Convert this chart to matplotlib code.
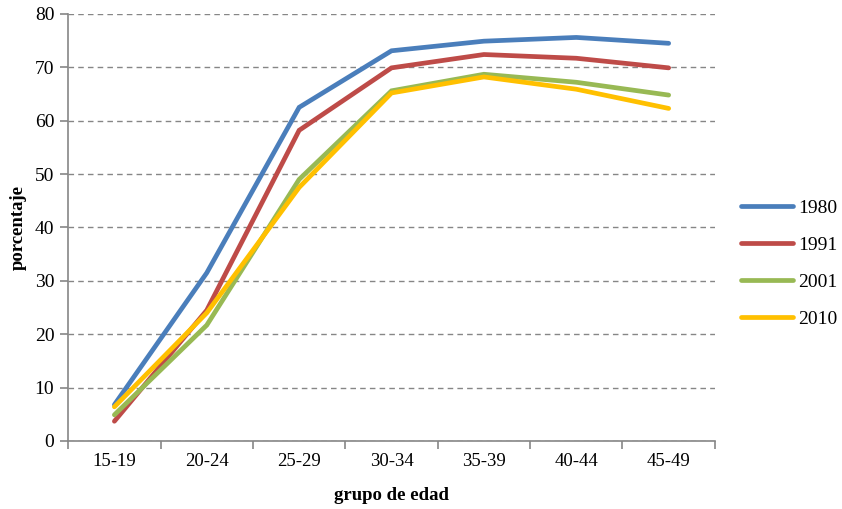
import numpy as np
import matplotlib
matplotlib.use('Agg')
import matplotlib.pyplot as plt

plt.rcParams['font.family'] = ['Liberation Serif', 'DejaVu Serif']

# grupos de edad y porcentajes por censo
grupos = ['15-19', '20-24', '25-29', '30-34', '35-39', '40-44', '45-49']
p1980 = [6.8, 31.5, 62.5, 73.1, 74.9, 75.6, 74.5]
p1991 = [3.7, 24.5, 58.2, 69.9, 72.4, 71.7, 69.9]
p2001 = [4.9, 21.7, 49.0, 65.6, 68.7, 67.2, 64.8]
p2010 = [6.4, 24.0, 47.5, 65.2, 68.2, 65.9, 62.3]
series = ['1980', '1991', '2001', '2010']
colores = ['#4A7EBB', '#BE4B48', '#98B954', '#FFC000']

fig = plt.figure(figsize=(8.42, 5.09), dpi=100)
ax = fig.add_axes([0.081, 0.1336, 0.768, 0.839])

x = np.arange(len(grupos))
for datos, nombre, col in zip([p1980, p1991, p2001, p2010], series, colores):
    ax.plot(x, datos, color=col, lw=3.4, label=nombre, solid_capstyle='round', solid_joinstyle='miter')

ax.set_xlim(-0.5, len(grupos) - 0.5)
ax.set_ylim(0, 80)
ax.set_yticks(range(0, 81, 10))
ax.set_xticks(x)
ax.set_xticklabels(grupos)
ax.set_xticks(np.arange(-0.5, len(grupos)), minor=True)
ax.tick_params(axis='x', which='major', length=0, pad=9, labelsize=13.5)
ax.tick_params(axis='x', which='minor', length=6, direction='out', color='#868686', width=1.2)
ax.tick_params(axis='y', length=6, direction='out', color='#868686', width=1.2, labelsize=14, pad=4)

for s in ['top', 'right']:
    ax.spines[s].set_visible(False)
for s in ['left', 'bottom']:
    ax.spines[s].set_color('#868686')
    ax.spines[s].set_linewidth(1.2)

ax.yaxis.grid(True, linestyle=(0, (4, 3)), color='#868686', lw=1)
ax.set_axisbelow(True)

ax.set_xlabel('grupo de edad', fontweight='bold', fontsize=13.5, labelpad=12)
ax.set_ylabel('porcentaje', fontweight='bold', fontsize=13.5, labelpad=6)

ax.legend(loc='center left', bbox_to_anchor=(0.859, 0.482), bbox_transform=fig.transFigure,
          frameon=False, fontsize=14, handlelength=2.7, labelspacing=1.0, handletextpad=0.25)

fig.savefig('out.png', dpi=100)
